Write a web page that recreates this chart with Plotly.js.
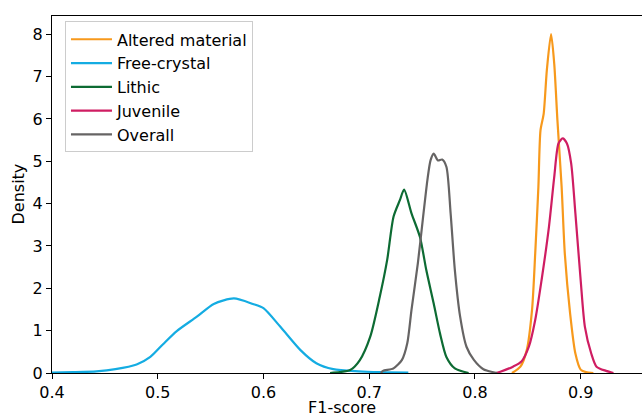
<!DOCTYPE html>
<html>
<head>
<meta charset="utf-8">
<script src="https://cdn.plot.ly/plotly-3.0.1.min.js"></script>
<style>html,body{margin:0;padding:0;background:#fff;}#chart{width:642px;height:413px;}</style>
</head>
<body>
<div id="chart"></div>
<script>
const seriesNames = ["Altered material", "Free-crystal", "Lithic", "Juvenile", "Overall"];
const seriesColors = ["#f7991c", "#14ace2", "#0d6b33", "#cf1d62", "#666464"];

const alteredX = [0.835,0.843,0.849,0.854,0.857,0.860,0.862,0.865,0.868,0.872,0.875,0.878,0.882,0.885,0.890,0.895,0.900,0.905,0.912];
const alteredY = [0.0,0.15,0.54,1.49,2.82,4.39,5.73,6.12,7.15,8.0,7.3,5.97,4.39,2.82,1.41,0.46,0.08,0.02,0.0];

const freeX = [0.400,0.420,0.442,0.460,0.480,0.493,0.505,0.518,0.537,0.553,0.572,0.590,0.600,0.616,0.635,0.650,0.666,0.690,0.710,0.737];
const freeY = [0.01,0.02,0.04,0.09,0.20,0.38,0.68,0.99,1.33,1.63,1.76,1.63,1.53,1.09,0.54,0.23,0.09,0.04,0.02,0.01];

const lithicX = [0.663,0.672,0.682,0.691,0.701,0.710,0.717,0.723,0.729,0.733,0.740,0.748,0.754,0.761,0.767,0.773,0.781,0.794];
const lithicY = [0.0,0.02,0.07,0.30,0.86,1.80,2.67,3.69,4.08,4.33,3.77,3.21,2.43,1.64,0.93,0.38,0.11,0.0];

const juvenileX = [0.820,0.824,0.836,0.844,0.851,0.857,0.863,0.870,0.875,0.879,0.883,0.887,0.891,0.895,0.900,0.904,0.910,0.915,0.924,0.931];
const juvenileY = [0.0,0.03,0.15,0.27,0.62,1.25,2.19,3.45,4.63,5.42,5.54,5.42,4.95,3.77,2.19,1.09,0.46,0.15,0.05,0.0];

const overallX = [0.711,0.713,0.723,0.731,0.736,0.740,0.746,0.751,0.755,0.758,0.761,0.765,0.769,0.773,0.777,0.781,0.786,0.792,0.799,0.808,0.821];
const overallY = [0.0,0.05,0.11,0.31,0.70,1.49,2.59,3.69,4.55,5.02,5.18,5.02,5.04,4.87,3.77,2.43,1.33,0.62,0.31,0.09,0.0];

const xTickVals = [0.4,0.5,0.6,0.7,0.8,0.9];
const xTickText = ["0.4","0.5","0.6","0.7","0.8","0.9"];
const yTickVals = [0,1,2,3,4,5,6,7,8];
const yTickText = ["0","1","2","3","4","5","6","7","8"];

const xs = [alteredX, freeX, lithicX, juvenileX, overallX];
const ys = [alteredY, freeY, lithicY, juvenileY, overallY];

const font = "DejaVu Sans, sans-serif";
const traces = seriesNames.map((n, i) => ({
  type: "scatter", mode: "lines", name: n,
  x: xs[i], y: ys[i],
  line: {color: seriesColors[i], width: 2.2, shape: "spline", smoothing: 0.7},
  cliponaxis: true
}));

const layout = {
  width: 642, height: 413,
  margin: {l: 52, r: 0, t: 16, b: 40, pad: 0},
  paper_bgcolor: "#fff", plot_bgcolor: "#fff",
  font: {family: font, size: 16, color: "#000"},
  showlegend: true,
  legend: {
    x: 0.022, y: 0.985, xanchor: "left", yanchor: "top",
    itemwidth: 41,
    bgcolor: "rgba(255,255,255,0.8)", bordercolor: "#cccccc", borderwidth: 1,
    font: {family: font, size: 16, color: "#000"}
  },
  xaxis: {
    range: [0.4, 0.958], tickvals: xTickVals, ticktext: xTickText,
    showgrid: false, zeroline: false, showline: true, linecolor: "#000", linewidth: 1.2,
    mirror: true, ticks: "outside", ticklen: 5, tickcolor: "#000",
    tickfont: {family: font, size: 16}
  },
  yaxis: {
    range: [0, 8.43], tickvals: yTickVals, ticktext: yTickText,
    showgrid: false, zeroline: false, showline: true, linecolor: "#000", linewidth: 1.2,
    ticks: "outside", ticklen: 5, tickcolor: "#000",
    tickfont: {family: font, size: 16}
  },
  annotations: [
    {text: "F1-score", xref: "paper", yref: "paper", x: 0.4915, y: 0, yshift: -34, xanchor: "center", yanchor: "middle", showarrow: false, font: {family: font, size: 16}},
    {text: "Density", xref: "paper", yref: "paper", x: 0, xshift: -34, y: 0.5, textangle: -90, xanchor: "center", yanchor: "middle", showarrow: false, font: {family: font, size: 16}}
  ]
};

Plotly.newPlot("chart", traces, layout, {displayModeBar: false, staticPlot: true});
</script>
</body>
</html>
